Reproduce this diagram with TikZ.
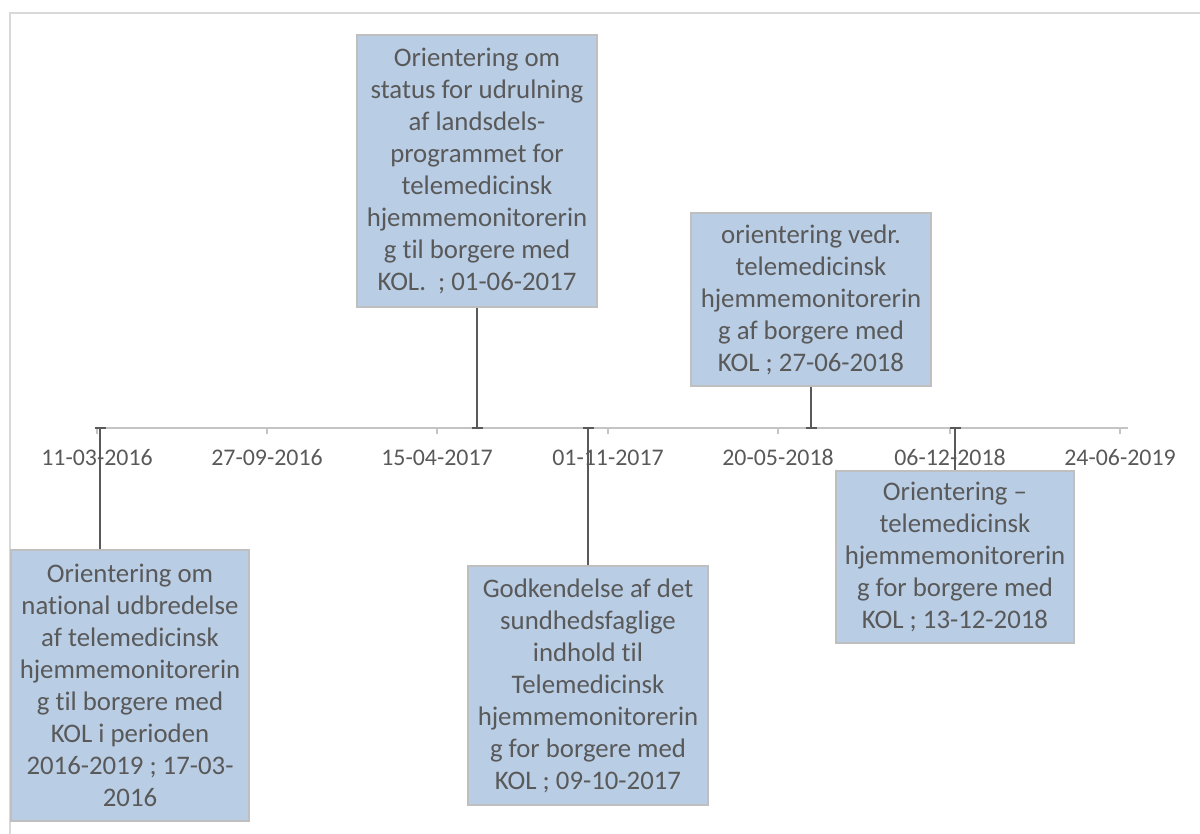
\documentclass[tikz,border=0pt]{standalone}
\usepackage{fontspec}
\setmainfont{Carlito}[Ligatures=NoCommon,RawFeature={-liga}]
\definecolor{txt}{HTML}{595959}
\definecolor{boxfill}{HTML}{B9CDE5}
\definecolor{boxline}{HTML}{BFBFBF}
\definecolor{axisc}{HTML}{C4C4C4}
\definecolor{framec}{HTML}{D9D9D9}
\tikzset{
  evbox/.style={draw=boxline, line width=1.1pt, fill=boxfill, text=txt, align=center, inner sep=0pt,
    font=\fontsize{20.1}{24}\selectfont},
  conn/.style={draw=txt, line width=1.5pt},
  axisline/.style={draw=axisc, line width=1.2pt},
  ticklab/.style={text=txt, anchor=base, inner sep=0pt, font=\fontsize{17.9}{21}\selectfont},
}
\begin{document}
\begin{tikzpicture}[x=0.75pt,y=-0.75pt]
\useasboundingbox (0,0) rectangle (1200,834);
% frame
\draw[framec, line width=1.5pt] (1200,13) -- (10,13) -- (10,834);
% axis
\coordinate (a0) at (97,428);
\coordinate (a1) at (1128,428);
\draw[axisline] (a0) -- (a1);
\foreach \x/\lab [count=\i] in {97/11-03-2016, 267/27-09-2016, 437/15-04-2017, 608/01-11-2017, 778/20-05-2018, 950/06-12-2018, 1120/24-06-2019}{
  \coordinate (k\i) at (\x,428);
  \draw[axisline] (k\i) -- ++(0,6);
  \node[ticklab] (l\i) at (\x,465.5) {\lab};
}
% boxes
\node[evbox, minimum width=178.5pt, minimum height=203.25pt] (b1) at (130,685.5)
  {Orientering om\\national udbredelse\\af telemedicinsk\\hjemmemonitorerin\\g til borgere med\\KOL i perioden\\2016-2019 ; 17-03-\\2016};
\node[evbox, minimum width=180pt, minimum height=204pt] (b2) at (477,171)
  {Orientering om\\status for udrulning\\af landsdels-\\programmet for\\telemedicinsk\\hjemmemonitorerin\\g til borgere med\\KOL.\ \ ; 01-06-2017};
\node[evbox, minimum width=180pt, minimum height=179.25pt] (b3) at (588,685.5)
  {Godkendelse af det\\sundhedsfaglige\\indhold til\\Telemedicinsk\\hjemmemonitorerin\\g for borgere med\\KOL ; 09-10-2017};
\node[evbox, minimum width=180pt, minimum height=129.75pt] (b4) at (811,299.5)
  {orientering vedr.\\telemedicinsk\\hjemmemonitorerin\\g af borgere med\\KOL ; 27-06-2018};
\node[evbox, minimum width=178.5pt, minimum height=129pt] (b5) at (955,557)
  {Orientering --\\telemedicinsk\\hjemmemonitorerin\\g for borgere med\\KOL ; 13-12-2018};
% connectors
\coordinate (t1) at (100,428);
\coordinate (t2) at (477,428);
\coordinate (t3) at (588,428);
\coordinate (t4) at (811,428);
\coordinate (t5) at (955,428);
\draw[conn] (t1) -- (t1 |- b1.north);
\draw[conn] (t2) -- (b2.south);
\draw[conn] (t3) -- (b3.north);
\draw[conn] (t4) -- (b4.south);
\draw[conn] (t5) -- (b5.north);
\foreach \t in {t1,t2,t3,t4,t5}{
  \draw[conn] (\t) ++(-5.5,0) -- ++(11,0);
}
\end{tikzpicture}
\end{document}
